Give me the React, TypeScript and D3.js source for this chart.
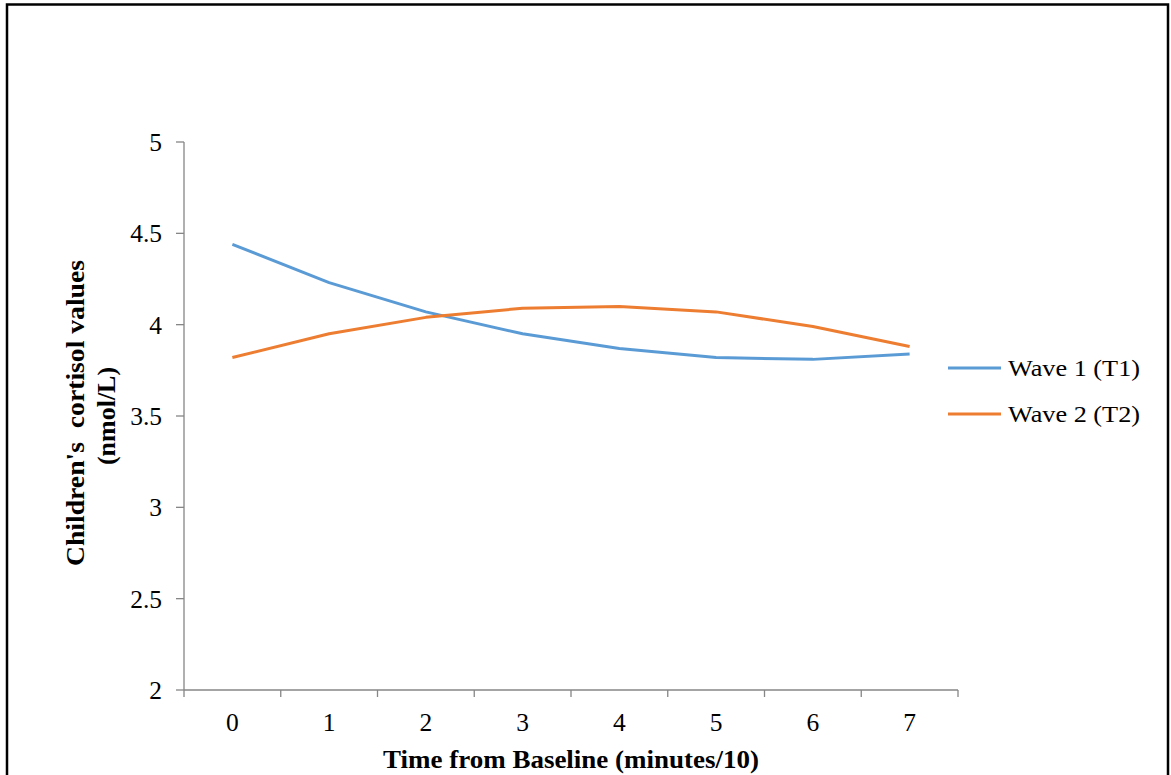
import React from "react";
import * as d3 from "d3";

const categories = ["0", "1", "2", "3", "4", "5", "6", "7"];
const wave1 = [4.44, 4.23, 4.07, 3.95, 3.87, 3.82, 3.81, 3.84];
const wave2 = [3.82, 3.95, 4.04, 4.09, 4.10, 4.07, 3.99, 3.88];
const yTicks = [2, 2.5, 3, 3.5, 4, 4.5, 5];
const seriesNames = ["Wave 1 (T1)", "Wave 2 (T2)"];
const colors = ["#5B9BD5", "#ED7D31"];

export default function App() {
  const W = 1171, H = 775;
  const x0 = 184, x1 = 958, yTop = 142, yBot = 690;
  const x = d3.scaleBand<string>().domain(categories).range([x0, x1]);
  const y = d3.scaleLinear().domain([2, 5]).range([yBot, yTop]);
  const line = d3.line<number>()
    .x((_, i) => (x(categories[i]) as number) + x.bandwidth() / 2)
    .y((d) => y(d));
  const axisColor = "#868686";
  const font = "'Liberation Serif', 'Times New Roman', serif";
  const series = [wave1, wave2];
  const boundaries = categories.map((c) => x(c) as number).concat([x1]);
  return (
    <svg width={W} height={H} style={{ position: "absolute", left: 0, top: 0 }} fontFamily={font}>
      <rect x={0} y={0} width={W} height={H} fill="#fff" />
      <rect x={7} y={4.5} width={1161} height={H + 20} fill="none" stroke="#000" strokeWidth={2.5} />
      {/* y axis */}
      <line x1={x0} x2={x0} y1={yTop} y2={yBot} stroke={axisColor} strokeWidth={1.3} />
      {yTicks.map((t) => (
        <g key={t}>
          <line x1={x0 - 8} x2={x0} y1={y(t)} y2={y(t)} stroke={axisColor} strokeWidth={1.3} />
          <text x={162} y={y(t)} dy="0.35em" textAnchor="end" fontSize={25.5} fill="#000">{t}</text>
        </g>
      ))}
      {/* x axis */}
      <line x1={x0} x2={x1} y1={yBot} y2={yBot} stroke={axisColor} strokeWidth={1.3} />
      {boundaries.map((b, i) => (
        <line key={i} x1={b} x2={b} y1={yBot} y2={yBot + 7} stroke={axisColor} strokeWidth={1.3} />
      ))}
      {categories.map((c) => (
        <text key={c} x={(x(c) as number) + x.bandwidth() / 2} y={722} dy="0.35em" textAnchor="middle" fontSize={25.5} fill="#000">{c}</text>
      ))}
      {/* lines */}
      {series.map((s, i) => (
        <path key={i} d={line(s) as string} fill="none" stroke={colors[i]} strokeWidth={3} strokeLinejoin="round" />
      ))}
      {/* legend */}
      {seriesNames.map((n, i) => (
        <g key={n}>
          <line x1={948} x2={1001} y1={368 + i * 46} y2={368 + i * 46} stroke={colors[i]} strokeWidth={3} />
          <text x={1008} y={368 + i * 46} dy="0.35em" fontSize={24} textLength={132} lengthAdjust="spacingAndGlyphs" fill="#000">{n}</text>
        </g>
      ))}
      {/* axis titles */}
      <text x={571} y={768} textAnchor="middle" fontSize={26} fontWeight="bold" textLength={376} lengthAdjust="spacingAndGlyphs" fill="#000">Time from Baseline (minutes/10)</text>
      <g transform="translate(84,413) rotate(-90)">
        <text x={0} y={0} textAnchor="middle" fontSize={26} fontWeight="bold" fill="#000" textLength={306} lengthAdjust="spacingAndGlyphs" style={{ whiteSpace: "pre" }}>Children's  cortisol values</text>
        <text x={-3} y={31} textAnchor="middle" fontSize={26} fontWeight="bold" fill="#000">(nmol/L)</text>
      </g>
    </svg>
  );
}
